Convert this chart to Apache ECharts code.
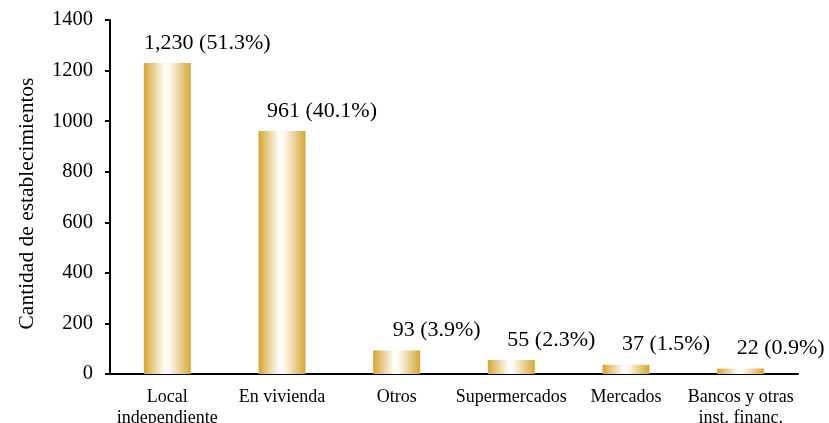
<!DOCTYPE html>
<html>
<head>
<meta charset="utf-8">
<script src="https://cdn.jsdelivr.net/npm/echarts@6/dist/echarts.min.js"></script>
<style>
  html, body { margin: 0; padding: 0; background: #fff; }
  #chart { width: 829px; height: 423px; }
</style>
</head>
<body>
<div id="chart"></div>
<script>
const categories = ["Local\nindependiente", "En vivienda", "Otros", "Supermercados", "Mercados", "Bancos y otras\ninst. financ."];
const values = [1230, 961, 93, 55, 37, 22];
const valueTexts = ["1,230", "961", "93", "55", "37", "22"];
const percents = ["51.3%", "40.1%", "3.9%", "2.3%", "1.5%", "0.9%"];

const font = "Liberation Serif";
const chart = echarts.init(document.getElementById("chart"));

const barColor = new echarts.graphic.LinearGradient(0, 0, 1, 0, [
  { offset: 0, color: "#D6A530" },
  { offset: 0.45, color: "#FFFFFF" },
  { offset: 0.55, color: "#FDF8EE" },
  { offset: 1, color: "#D6A736" },
]);

chart.setOption({
  backgroundColor: "#fff",
  animation: false,
  grid: { left: 110, right: 31, top: 20, bottom: 49, containLabel: false, outerBoundsMode: "none" },
  xAxis: {
    type: "category",
    data: categories,
    axisLine: { lineStyle: { color: "#000", width: 2 } },
    axisTick: { show: false },
    axisLabel: {
      color: "#000",
      fontFamily: font,
      fontSize: 18,
      lineHeight: 21,
      margin: 13,
      interval: 0,
    },
  },
  yAxis: {
    type: "value",
    min: 0,
    max: 1400,
    interval: 200,
    name: "Cantidad de establecimientos",
    nameLocation: "middle",
    nameGap: 72,
    nameTextStyle: { color: "#000", fontFamily: font, fontSize: 21.5, padding: [0, 13, 0, 0] },
    axisLine: { show: true, lineStyle: { color: "#000", width: 2 } },
    axisTick: { show: true, length: 5, lineStyle: { color: "#000", width: 2 } },
    splitLine: { show: false },
    axisLabel: { color: "#000", fontFamily: font, fontSize: 20.5, margin: 17, formatter: (v) => String(v) },
  },
  series: [
    {
      type: "bar",
      data: values,
      barWidth: 47,
      itemStyle: { color: barColor },
      label: {
        show: true,
        position: "top",
        distance: 9,
        offset: [40, 0],
        color: "#000",
        fontFamily: font,
        fontSize: 22,
        formatter: (p) => valueTexts[p.dataIndex] + " (" + percents[p.dataIndex] + ")",
      },
    },
  ],
});
</script>
</body>
</html>
